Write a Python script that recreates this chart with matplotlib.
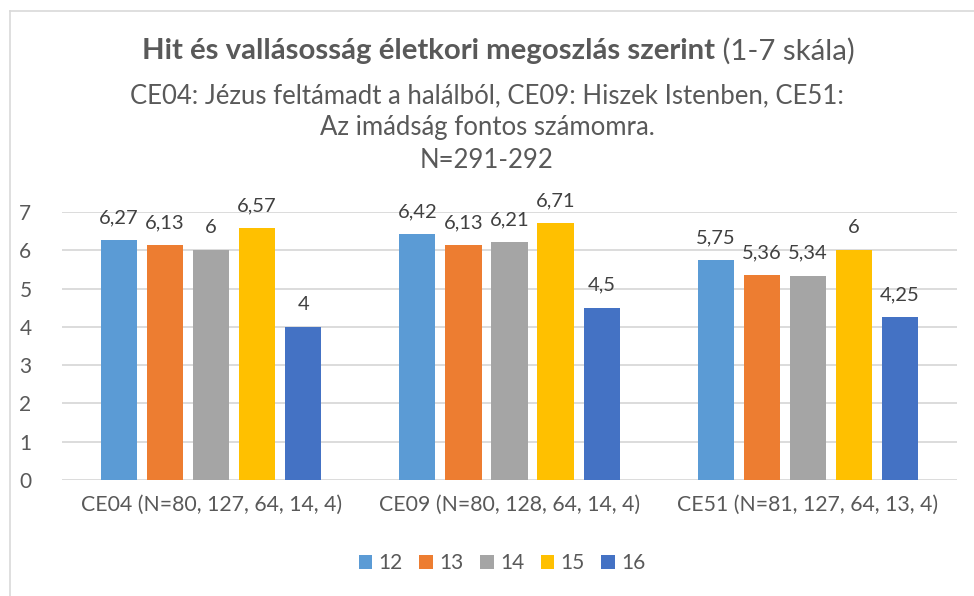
import matplotlib
matplotlib.use("Agg")
import matplotlib.pyplot as plt
import numpy as np
from matplotlib.lines import Line2D

categories = ["CE04 (N=80, 127, 64, 14, 4)", "CE09 (N=80, 128, 64, 14, 4)", "CE51 (N=81, 127, 64, 13, 4)"]
series_names = ["12", "13", "14", "15", "16"]
s12 = [6.27, 6.42, 5.75]
s13 = [6.13, 6.13, 5.36]
s14 = [6.00, 6.21, 5.34]
s15 = [6.57, 6.71, 6.00]
s16 = [4.00, 4.50, 4.25]
yticks = [0, 1, 2, 3, 4, 5, 6, 7]

colors = ["#5b9bd5", "#ed7d31", "#a5a5a5", "#ffc000", "#4472c4"]
FONT = "Lato"
TXT = "#595959"

plt.rcParams['font.family'] = [FONT, 'DejaVu Sans']

W, H = 974, 596
fig = plt.figure(figsize=(W / 100, H / 100), dpi=100)
ax = fig.add_axes([62 / W, 1 - 480 / H, (957 - 62) / W, (480 - 212) / H])

x = np.arange(len(categories))
bw = 0.1207
step = 0.1542
data = [s12, s13, s14, s15, s16]
for i, (vals, c, name) in enumerate(zip(data, colors, series_names)):
    pos = x + (i - 2) * step
    ax.bar(pos, vals, width=bw, color=c, label=name, zorder=3)
    for p, v in zip(pos, vals):
        lab = f"{v:g}".replace(".", ",")
        ax.annotate(lab, (p, v), xytext=(0, 10), textcoords="offset points",
                    ha="center", va="bottom", fontsize=14.5, color="#404040")

ax.set_xlim(-0.5, 2.5)
ax.set_ylim(0, 7)
ax.set_yticks(yticks)
ax.set_xticks(x)
ax.set_xticklabels(categories)
ax.tick_params(axis="both", length=0, labelsize=15, colors=TXT)
ax.tick_params(axis="x", labelsize=15.3, pad=11)
ax.tick_params(axis="y", pad=22)
ax.grid(axis="y", color="#d9d9d9", linewidth=1.3, zorder=0)
for s in ax.spines.values():
    s.set_visible(False)

# title
fig.canvas.draw()
r = fig.canvas.get_renderer()
t1 = fig.text(0, 1 - 51 / H, "Hit és vallásosság életkori megoszlás szerint", fontsize=21.2,
              fontweight="bold", color=TXT, va="center", ha="left")
t2 = fig.text(0, 1 - 51 / H, " (1-7 skála)", fontsize=21.2, color=TXT, va="center", ha="left")
w1 = t1.get_window_extent(r).width
w2 = t2.get_window_extent(r).width
start = 498 - (w1 + w2) / 2
t1.set_x(start / W)
t2.set_x((start + w1) / W)

sub = ["CE04: Jézus feltámadt a halálból, CE09: Hiszek Istenben, CE51:",
       "Az imádság fontos számomra.",
       "N=291-292"]
for yy, s in zip([96, 128, 160], sub):
    fig.text(487 / W, 1 - yy / H, s, fontsize=18.5, color=TXT, ha="center", va="center")

leg = fig.legend(loc="center", bbox_to_anchor=(502 / W, 1 - 563 / H), ncol=5, frameon=False,
                 fontsize=15, handlelength=0.65, handleheight=0.65, handletextpad=0.3,
                 columnspacing=0.8, labelcolor=TXT)

# outer border
fig.add_artist(Line2D([10 / W, 1], [1 - 11 / H, 1 - 11 / H], color="#d9d9d9", lw=1.2))
fig.add_artist(Line2D([10 / W, 10 / W], [0, 1 - 11 / H], color="#d9d9d9", lw=1.2))

fig.savefig("out.png", dpi=100, facecolor="white")
